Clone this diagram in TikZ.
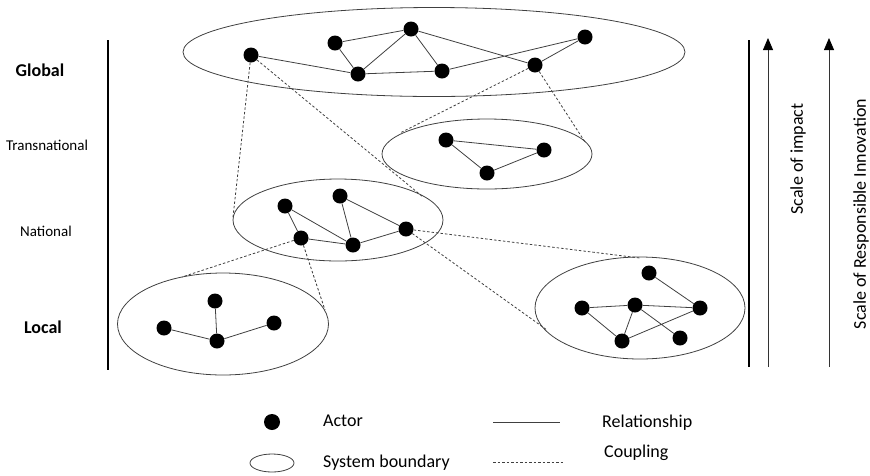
\documentclass[tikz,border=0pt]{standalone}
\usepackage{fontspec}
\setmainfont{Carlito}
\usetikzlibrary{shapes.geometric,arrows.meta}
\tikzset{
  actor/.style={circle,fill=black,inner sep=0pt,minimum size=15pt},
  sysbound/.style={ellipse,draw=black!75,line width=0.8pt,inner sep=0pt},
  rel/.style={draw=black!75,line width=0.8pt},
  coup/.style={draw=black!75,line width=0.8pt,dash pattern=on 2.5pt off 2pt},
  lbl/.style={font=\fontsize{15}{17}\selectfont},
  blbl/.style={font=\fontsize{18}{20}\selectfont\bfseries},
  txt/.style={font=\fontsize{18}{20}\selectfont,anchor=west,inner sep=0pt},
  axis/.style={line width=1.6pt,black},
  scalearrow/.style={line width=0.8pt,black!80,-{Triangle[width=10pt,length=12pt,color=black]}}
}
\begin{document}
\begin{tikzpicture}[x=1pt,y=-1pt]
\useasboundingbox (0,0) rectangle (870,475);
% system boundaries
\node[sysbound,minimum width=502pt,minimum height=89pt] (G) at (434,52) {};
\node[sysbound,minimum width=210pt,minimum height=70pt] (T) at (487,154) {};
\node[sysbound,minimum width=210pt,minimum height=82pt] (N) at (338,220) {};
\node[sysbound,minimum width=211pt,minimum height=102pt] (L) at (223,324) {};
\node[sysbound,minimum width=210pt,minimum height=102pt] (R) at (640,308) {};
% global actors
\node[actor] (g1) at (251,55) {};
\node[actor] (g2) at (335,43) {};
\node[actor] (g3) at (411,29) {};
\node[actor] (g4) at (358,74) {};
\node[actor] (g5) at (442,71) {};
\node[actor] (g6) at (535,65) {};
\node[actor] (g7) at (585,37) {};
\draw[rel] (g1)--(g4) (g2)--(g3) (g2)--(g4) (g4)--(g3) (g4)--(g5) (g3)--(g5) (g3)--(g6) (g5)--(g7) (g6)--(g7);
% transnational
\node[actor] (t1) at (446,140) {};
\node[actor] (t2) at (544,150) {};
\node[actor] (t3) at (487,173) {};
\draw[rel] (t1)--(t2) (t1)--(t3) (t3)--(t2);
% national
\node[actor] (n1) at (285,206) {};
\node[actor] (n2) at (340,196) {};
\node[actor] (n3) at (301,238) {};
\node[actor] (n4) at (353,245) {};
\node[actor] (n5) at (406,229) {};
\draw[rel] (n1)--(n3) (n1)--(n4) (n2)--(n4) (n2)--(n5) (n3)--(n4) (n4)--(n5);
% local
\node[actor] (l1) at (164,328) {};
\node[actor] (l2) at (215,301) {};
\node[actor] (l3) at (217,341) {};
\node[actor] (l4) at (274,323) {};
\draw[rel] (l1)--(l3) (l2)--(l3) (l3)--(l4);
% right local
\node[actor] (r1) at (649,273) {};
\node[actor] (r2) at (582,308) {};
\node[actor] (r3) at (635,305) {};
\node[actor] (r4) at (700,308) {};
\node[actor] (r5) at (622,341) {};
\node[actor] (r6) at (680,338) {};
\draw[rel] (r1)--(r4) (r2)--(r3) (r3)--(r4) (r2)--(r5) (r3)--(r5) (r3)--(r6) (r5)--(r4);
% coupling end points
\coordinate (c1) at (233,217);
\coordinate (c2) at (423,197);
\coordinate (c3) at (400,133);
\coordinate (c4) at (585,142);
\coordinate (c5) at (182,277);
\coordinate (c6) at (325,310);
\coordinate (c7) at (640,258);
\coordinate (c8) at (547,330);
\draw[coup] (g1)--(c1) (g1)--(c2) (g6)--(c3) (g6)--(c4) (n3)--(c5) (n3)--(c6) (n5)--(c7) (n5)--(c8);
% level labels
\node[blbl] (lg) at (40,70) {Global};
\node[lbl] (lt) at (47,145) {Transnational};
\node[lbl] (ln) at (46,231) {National};
\node[blbl] (ll) at (43,327) {Local};
% axes
\coordinate (a1) at (108,40);
\coordinate (a2) at (108,370);
\draw[axis] (a1)--(a2);
\coordinate (b1) at (749,40);
\coordinate (b2) at (749,367);
\draw[axis] (b1)--(b2);
\coordinate (s1a) at (768,367);
\coordinate (s1b) at (768,38);
\draw[scalearrow] (s1a)--(s1b);
\coordinate (s2a) at (829,367);
\coordinate (s2b) at (829,38);
\draw[scalearrow] (s2a)--(s2b);
\node[font=\fontsize{18}{20}\selectfont,rotate=90] (si) at (798,159) {Scale of impact};
\node[font=\fontsize{18}{20}\selectfont,rotate=90] (sr) at (861,214) {Scale of Responsible Innovation};
% legend
\node[actor,minimum size=16pt] (la) at (272,422) {};
\node[txt] (lat) at (323,421) {Actor};
\coordinate (lr1) at (493,422);
\coordinate (lr2) at (560,422);
\draw[rel] (lr1)--(lr2);
\node[txt] (lrt) at (602,423) {Relationship};
\node[sysbound,minimum width=44pt,minimum height=18pt] (le) at (272,463) {};
\node[txt] (let) at (323,463) {System boundary};
\coordinate (lc1) at (493,462);
\coordinate (lc2) at (563,462);
\draw[coup] (lc1)--(lc2);
\node[txt] (lct) at (604,453) {Coupling};
\end{tikzpicture}
\end{document}
